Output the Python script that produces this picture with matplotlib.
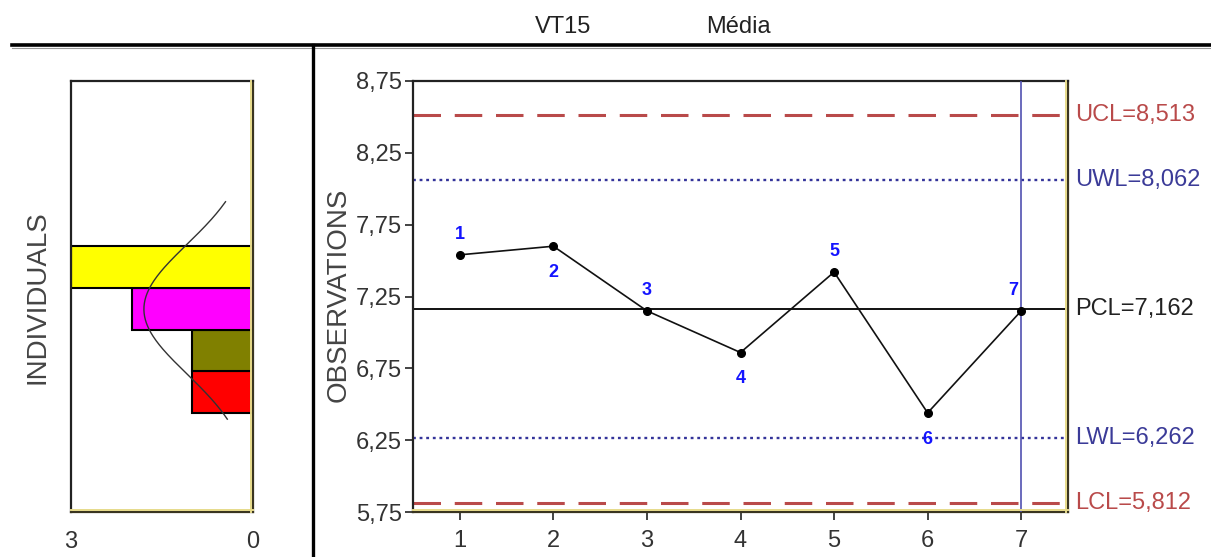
import numpy as np
import matplotlib
matplotlib.use("Agg")
import matplotlib.pyplot as plt
from matplotlib.lines import Line2D
import matplotlib.transforms as mtransforms

# ---------------- data ----------------
samples = [1, 2, 3, 4, 5, 6, 7]
values = [7.54, 7.60, 7.15, 6.86, 7.42, 6.44, 7.15]
limit_names = ["UCL", "UWL", "PCL", "LWL", "LCL"]
limit_values = [8.513, 8.062, 7.162, 6.262, 5.812]
y_ticks = [5.75, 6.25, 6.75, 7.25, 7.75, 8.25, 8.75]
hist_ticks = [3, 0]
title_left = "VT15"
title_right = "Média"
ylabel_main = "OBSERVATIONS"
ylabel_hist = "INDIVIDUALS"
n_bins = 4
bar_colors = ["#FF0000", "#808000", "#FF00FF", "#FFFF00"]

plt.rcParams['font.family'] = ['Liberation Sans', 'DejaVu Sans']

W, H = 1211, 557
fig = plt.figure(figsize=(W / 100, H / 100), dpi=100)

def fx(px):
    return px / W

def fy(py):
    return 1 - py / H

top_px, bot_px = 81, 512
ax = fig.add_axes([fx(413), fy(bot_px), fx(1068) - fx(413), fy(top_px) - fy(bot_px)])
axh = fig.add_axes([fx(71), fy(bot_px), fx(253) - fx(71), fy(top_px) - fy(bot_px)])

ylim = (y_ticks[0], y_ticks[-1])
tick_color = "#333333"
fs_tick = 17

# ---------------- main chart ----------------
ax.set_xlim(0.5, 7.5)
ax.set_ylim(*ylim)

styles = {
    "UCL": dict(color="#B94A4A", ls=(0, (9, 4.5)), lw=2.2),
    "LCL": dict(color="#B94A4A", ls=(0, (9, 4.5)), lw=2.2),
    "UWL": dict(color="#34349A", ls=(0, (1.2, 1.6)), lw=1.7),
    "LWL": dict(color="#34349A", ls=(0, (1.2, 1.6)), lw=1.7),
    "PCL": dict(color="#111111", ls="-", lw=1.4),
}
label_colors = {"UCL": "#B94A4A", "LCL": "#B94A4A", "UWL": "#3B3B98",
                "LWL": "#3B3B98", "PCL": "#222222"}

for name, val in zip(limit_names, limit_values):
    ax.axhline(val, zorder=2, **styles[name])
    ax.annotate(f"{name}={val:.3f}".replace(".", ","), xy=(1, val),
                xycoords=("axes fraction", "data"), xytext=(5, 0),
                textcoords="offset points", ha="left", va="center",
                fontsize=fs_tick, color=label_colors[name], annotation_clip=False)

ax.axvline(samples[-1], color="#5050B0", lw=1.2, zorder=3)

ax.plot(samples, values, color="#111111", lw=1.2, marker="o", ms=5.5,
        markerfacecolor="black", markeredgecolor="black", zorder=4)

for i, (s, v) in enumerate(zip(samples, values)):
    above = (i % 2 == 0)
    dy = 15 if above else -19
    dx = -6 if i == len(samples) - 1 else 0
    ax.annotate(str(s), xy=(s, v), xytext=(dx, dy), textcoords="offset points",
                ha="center", va="center", fontsize=13, fontweight="bold",
                color="#1414FF", zorder=5)

ax.set_xticks(samples)
ax.set_xticklabels([str(s) for s in samples])
ax.set_yticks(y_ticks)
ax.set_yticklabels([f"{t:.2f}".replace(".", ",") for t in y_ticks])
ax.tick_params(axis="both", direction="out", length=6, width=1.2,
               colors="#222222", labelsize=fs_tick, labelcolor=tick_color, pad=2)
ax.tick_params(axis="x", pad=7)

# ---------------- histogram ----------------
counts, edges = np.histogram(values, bins=n_bins)
bw = edges[1] - edges[0]
axh.barh(edges[:-1], counts, height=bw, align="edge", color=bar_colors,
         edgecolor="black", linewidth=1.5, zorder=2)
mean = limit_values[2]
sigma = (limit_values[0] - limit_values[2]) / 3
yy = np.linspace(mean - 1.7 * sigma, mean + 1.66 * sigma, 200)
pdf = len(values) * bw * np.exp(-0.5 * ((yy - mean) / sigma) ** 2) / (sigma * np.sqrt(2 * np.pi))
axh.plot(pdf, yy, color="#333333", lw=1.0, zorder=3)
axh.set_xlim(3, 0)
axh.set_ylim(*ylim)
axh.set_yticks([])
axh.set_xticks(hist_ticks)
axh.set_xticklabels([str(t) for t in hist_ticks])
axh.tick_params(axis="x", length=0, labelsize=fs_tick, labelcolor=tick_color, pad=14)

# ---------------- frames (3D look) ----------------
for a in (ax, axh):
    for side in ("left", "top"):
        a.spines[side].set_color("#222222")
        a.spines[side].set_linewidth(1.6)
    for side in ("right", "bottom"):
        a.spines[side].set_color("#3a3520")
        a.spines[side].set_linewidth(1.6)
    off_r = mtransforms.offset_copy(a.transAxes, fig=fig, x=-1.6, y=0, units="dots")
    off_b = mtransforms.offset_copy(a.transAxes, fig=fig, x=0, y=1.6, units="dots")
    a.add_line(Line2D([1, 1], [0, 1], transform=off_r, color="#E6DA8A", lw=1.4,
                      clip_on=False, zorder=6))
    a.add_line(Line2D([0, 1], [0, 0], transform=off_b, color="#E6DA8A", lw=1.4,
                      clip_on=False, zorder=6))

# ---------------- outer decorations ----------------
fig.add_artist(Line2D([fx(12), 1], [fy(45), fy(45)], color="black", lw=2.6))
fig.add_artist(Line2D([fx(12), 1], [fy(47.5), fy(47.5)], color="#999999", lw=0.8))
fig.add_artist(Line2D([fx(313), fx(313)], [fy(45), 0], color="black", lw=2.4))

fig.text(fx(563), fy(27), title_left, ha="center", va="center", fontsize=fs_tick, color="#222222")
fig.text(fx(738), fy(27), title_right, ha="center", va="center", fontsize=fs_tick, color="#222222")
fig.text(fx(339), fy(295), ylabel_main, rotation=90, ha="center", va="center",
         fontsize=20, color="#444444")
fig.text(fx(38), fy(297), ylabel_hist, rotation=90, ha="center", va="center",
         fontsize=20, color="#444444")

fig.savefig("out.png", dpi=100)
